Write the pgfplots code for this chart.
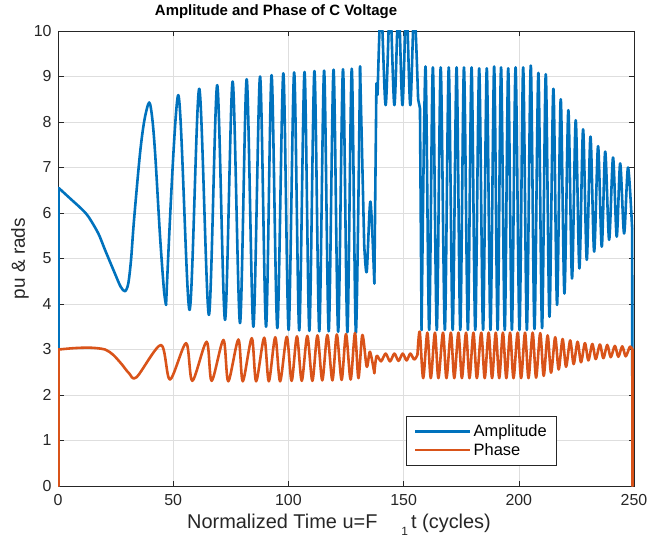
\documentclass[border=0pt]{standalone}
\usepackage{fontspec}
\setmainfont{Liberation Sans}
\usepackage{pgfplots}
\pgfplotsset{compat=1.18}
\definecolor{mblue}{rgb}{0,0.447,0.741}
\definecolor{morange}{rgb}{0.85,0.325,0.098}
\definecolor{axgray}{rgb}{0.15,0.15,0.15}
\pgfplotsset{
  amp/.style={mblue, line width=2.6pt, line join=round, line cap=round, no markers},
  pha/.style={morange, line width=2.6pt, line join=round, line cap=round, no markers},
}
\begin{document}
\begin{tikzpicture}
\begin{axis}[
  scale only axis, width=576bp, height=455bp,
  xmin=0, xmax=250, ymin=0, ymax=10,
  xtick={0,50,...,250}, ytick={0,1,...,10},
  grid=major, grid style={draw=black!13, line width=0.6pt},
  axis line style={draw=axgray, line width=0.6pt},
  tick style={draw=axgray, line width=0.6pt},
  major tick length=5.5bp,
  tick align=inside,
  xtick pos=both, ytick pos=both,
  /pgf/number format/assume math mode=true,
  tick label style={font=\fontsize{16}{18}\selectfont, text=axgray},
  yticklabel style={xshift=-3bp},
  xticklabel style={yshift=-5bp},
  title={\bfseries Amplitude and Phase of C Voltage},
  title style={font=\fontsize{15}{17}\selectfont, at={(axis description cs:0.168,1.022)}, anchor=base west, inner sep=0pt},
  xlabel={Normalized Time u=F\hspace{24bp}\raisebox{-7bp}{\fontsize{12}{12}\selectfont 1}\hspace{3bp}t (cycles)},
  xlabel style={font=\fontsize{20}{22}\selectfont, text=axgray, at={(axis description cs:0.224,-0.0945)}, anchor=base west, inner sep=0pt},
  ylabel={pu \& rads},
  ylabel style={font=\fontsize{19}{21}\selectfont, text=axgray, at={(axis description cs:-0.066,0.5)}, anchor=center, inner sep=0pt},
  legend style={at={(axis description cs:0.8663,0.046)}, anchor=south east, draw=axgray, fill=white, line width=0.5pt,
    font=\fontsize{16.5}{18}\selectfont, inner xsep=8bp, inner ysep=6bp, row sep=1.5bp,
    /tikz/every even column/.append style={column sep=3bp}},
  legend cell align=left,
  legend image code/.code={\draw[#1, line width=2.6pt, line cap=butt] (0bp,0bp) -- (55bp,0bp);},
]
% ---------- Amplitude ----------
\addplot[amp, smooth] coordinates {
(0.3,6.55) (5.9,6.29) (10,6.1) (13.2,5.92) (17.5,5.55) (20.4,5.19) (24.7,4.67) (27.2,4.38) (29.1,4.28)
(30.5,4.45) (31.7,4.97) (33.0,5.85) (35.6,7.31) (37.5,8.04) (39.6,8.43) (41.0,8.04) (42.3,7.2)
(44.3,5.48) (46.0,4.3) (46.9,3.98)
};
\addlegendentry{Amplitude\hspace{6bp}}
\addplot[amp, smooth, forget plot] coordinates {
(46.9,3.98) (52.2,8.59) (57.1,3.87) (61.3,8.73)
(65.5,3.76) (69.1,8.81) (72.5,3.65) (75.8,8.89) (79.0,3.58) (81.9,8.94) (84.8,3.50) (87.7,9.00)
(90.3,3.50) (92.7,9.03) (95.2,3.47) (97.8,9.07) (100.1,3.43) (102.5,9.09) (104.7,3.42) (107.0,9.10)
(109.1,3.41) (111.3,9.12) (113.4,3.40) (115.5,9.13) (117.5,3.40) (119.6,9.15) (121.6,3.39) (123.7,9.16)
(125.6,3.38) (127.5,9.17) (129.3,3.37) (131.1,9.22)
};
\addplot[amp, forget plot] coordinates {(0.3,0) (0.3,6.55)};
\addplot[amp, forget plot] coordinates {(131.1,9.22) (132.9,5.3)};
\addplot[amp, smooth, forget plot] coordinates {(132.9,5.3) (134.0,4.71) (135.6,6.25) (137.3,4.45)};
\addplot[amp, forget plot] coordinates {(137.3,4.45) (138.2,8.85) (138.7,8.6)};
\addplot[amp, smooth, forget plot] coordinates {
(138.7,8.6) (140.2,10.6) (142.2,8.37) (144.1,10.6) (146.0,8.37) (147.8,10.6) (149.5,8.37) (151.2,10.6)
(152.9,8.37) (154.6,10.5) (156.3,8.5)
};
\addplot[amp, forget plot] coordinates {(156.3,8.5) (157.1,8.3) (157.8,3.43)};
\addplot[amp, smooth, forget plot] coordinates {
(157.8,3.43)
(159.5,9.22) (161.1,3.43) (162.7,9.20) (164.4,3.43) (166.1,9.20) (167.9,3.43) (169.6,9.20) (171.3,3.43)
(173.0,9.20) (174.6,3.43) (176.2,9.20) (177.9,3.43) (179.5,9.20) (181.1,3.43) (182.8,9.18) (184.5,3.43)
(186.1,9.18) (187.7,3.43) (189.3,9.22) (190.8,3.43) (192.3,9.20) (193.9,3.43) (195.4,9.18) (197.0,3.43)
(198.6,9.20) (200.3,3.43) (201.9,9.20) (203.5,3.43) (205.2,9.24) (206.8,3.45) (208.5,9.08) (210.1,3.47)
(211.7,9.05) (213.3,3.72) (215.0,8.73) (216.6,3.98) (218.2,8.50) (219.8,4.23) (221.5,8.26) (223.1,4.56)
(224.7,8.04) (226.3,4.78) (227.9,7.84) (229.5,4.97) (231.1,7.68) (232.7,5.15) (234.4,7.47) (236.0,5.26)
(237.5,7.35) (239.2,5.41) (240.9,7.22) (242.5,5.48) (244.0,7.09) (245.7,5.55) (247.4,7.00) (249.2,5.65)
};
\addplot[amp, forget plot] coordinates {(249.2,5.65) (249.3,0)};
% ---------- Phase ----------
\addplot[pha, smooth] coordinates {
(0.3,3.0) (7,3.03) (14,3.04) (20.4,3.0) (24,2.88) (27.6,2.68) (30.8,2.48) (34.1,2.39) (44.7,3.10) (48.6,2.34) (55.6,3.14) (58.3,2.31) (64.5,3.17)
(66.7,2.31) (71.8,3.21) (73.9,2.30) (78.3,3.22) (80.2,2.30) (84.1,3.25) (86.0,2.30) (89.5,3.26)
(91.5,2.30) (94.3,3.27) (96.4,2.30) (99.3,3.28) (101.4,2.31) (103.7,3.29) (105.8,2.31) (108.2,3.30)
(110.4,2.31) (112.6,3.31) (114.7,2.32) (116.9,3.32) (119.1,2.32) (121.0,3.33) (123.1,2.33) (125.0,3.34)
(127.0,2.34) (128.9,3.36) (130.4,2.37) (132.1,3.32) (134.0,2.62) (135.4,2.95) (137.3,2.48)
};
\addlegendentry{Phase}
\addplot[pha, forget plot] coordinates {(0.3,0) (0.3,3.0)};
\addplot[pha, smooth, forget plot] coordinates {
(137.3,2.48) (138.3,2.86) (140.2,2.74) (142.2,2.91) (144.1,2.74) (146.0,2.91) (147.8,2.75) (149.6,2.91)
(151.3,2.76) (152.9,2.91) (154.6,2.78) (156.0,2.88)
};
\addplot[pha, smooth, forget plot] coordinates {
(156.0,2.88)
(157.0,3.39) (158.5,2.37) (160.3,3.37) (161.8,2.37) (163.6,3.37) (165.1,2.37) (167.1,3.37) (168.6,2.37)
(170.5,3.37) (172.0,2.37) (173.8,3.37) (175.3,2.37) (177.1,3.37) (178.6,2.37) (180.3,3.37) (181.8,2.37)
(183.7,3.37) (185.2,2.37) (186.9,3.37) (188.4,2.37) (190.0,3.37) (191.5,2.37) (193.1,3.37) (194.6,2.37)
(196.2,3.37) (197.7,2.37) (199.5,3.37) (201.0,2.37) (202.7,3.37) (204.2,2.37) (206.0,3.37) (207.5,2.38)
(209.3,3.36) (210.8,2.42) (212.5,3.31) (214.0,2.49) (215.8,3.27) (217.3,2.56) (219.0,3.23) (220.5,2.62)
(222.3,3.20) (223.8,2.68) (225.5,3.17) (227.0,2.72) (228.7,3.14) (230.2,2.76) (231.9,3.12) (233.4,2.79)
(235.2,3.11) (236.7,2.81) (238.4,3.10) (239.9,2.83) (241.7,3.08) (243.2,2.84) (244.9,3.07) (246.4,2.85)
(248.2,3.06) (249.3,3.0)
};
\addplot[pha, forget plot] coordinates {(249.3,3.0) (249.3,0)};
\end{axis}
\pgfresetboundingbox
\path (current axis.south west) ++(-58bp,-54bp) coordinate (bbsw);
\path (current axis.north east) ++(15bp,31bp) coordinate (bbne);
\useasboundingbox (bbsw) rectangle (bbne);
\end{tikzpicture}
\end{document}
